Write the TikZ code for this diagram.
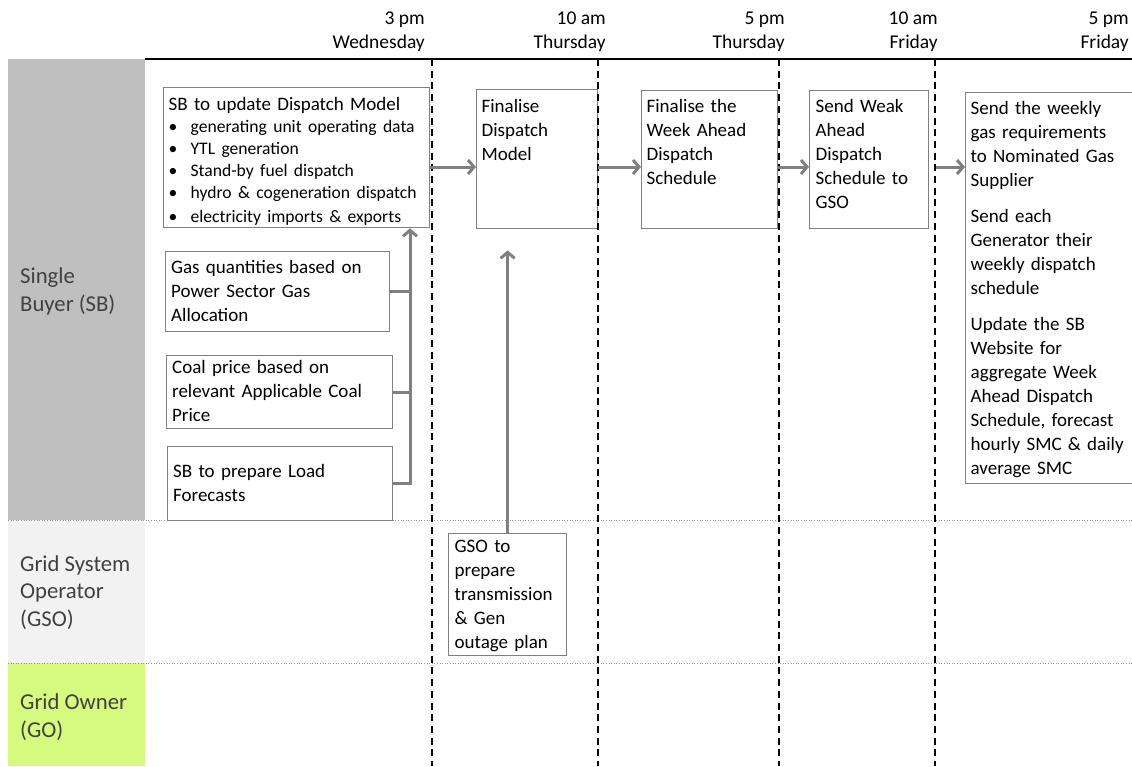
\documentclass[tikz,border=0pt]{standalone}
\usepackage{fontspec}
\setmainfont{Carlito}
\usetikzlibrary{arrows.meta}
\definecolor{sbgray}{RGB}{191,191,191}
\definecolor{gsogray}{RGB}{242,242,242}
\definecolor{gogreen}{RGB}{214,250,126}
\definecolor{boxline}{RGB}{128,128,128}
\definecolor{arrowgray}{RGB}{128,128,128}
\definecolor{lanetext}{RGB}{64,64,64}
\definecolor{dotgray}{RGB}{150,150,150}
\begin{document}
\begin{tikzpicture}[x=1pt,y=-1pt,
  every node/.style={font=\fontsize{19}{24}\selectfont},
  box/.style={draw=boxline, line width=1.3pt, fill=white, align=left,
    inner xsep=5pt, inner ysep=0pt, anchor=north west},
  lane/.style={anchor=base west, align=left, text=lanetext,
    font=\fontsize{22.7}{27.6}\selectfont, inner sep=0pt},
  hdr/.style={anchor=base east, align=right, inner sep=0pt,
    font=\fontsize{19.5}{24}\selectfont},
  timeline/.style={black, line width=1.4pt, dash pattern=on 7pt off 4.7pt},
  sep/.style={dotgray, line width=1pt, dash pattern=on 1pt off 1.6pt},
  arr/.style={arrowgray, line width=3pt, -{Straight Barb[length=6pt,width=14pt]}},
  link/.style={arrowgray, line width=3pt},
]
\useasboundingbox (0,0) rectangle (1132,766);
\clip (0,0) rectangle (1132,766);

% swimlane headers
\fill[sbgray] (8,59) rectangle (145,520);
\fill[gsogray] (8,520) rectangle (145,663);
\fill[gogreen] (8,663) rectangle (145,766);
\node[lane] (lsb) at (20,311.5) {Single\\Buyer (SB)};
\node[lane] (lgso) at (20,626.5) {Grid System\\Operator\\(GSO)};
\node[lane] (lgo) at (20,737) {Grid Owner\\(GO)};

% lane separators
\draw[sep] (8,520) -- (1132,520);
\draw[sep] (8,663) -- (1132,663);

% time header
\draw[black, line width=1.4pt] (145,59) -- (1132,59);
\node[hdr] (t1) at (425,48) {3 pm\\Wednesday};
\node[hdr] (t2) at (606,48) {10 am\\Thursday};
\node[hdr] (t3) at (785,48) {5 pm\\Thursday};
\node[hdr] (t4) at (938,48) {10 am\\Friday};
\node[hdr] (t5) at (1129,48) {5 pm\\Friday};

% boxes
\node[box, text width=256pt, text height=22.5pt, text depth=117.5pt] (b1) at (163,87)
  {SB to update Dispatch Model\\\fontsize{17.6}{22}\selectfont
   \makebox[22pt][l]{\textbullet}generating unit operating data\\
   \makebox[22pt][l]{\textbullet}YTL generation\\
   \makebox[22pt][l]{\textbullet}Stand-by fuel dispatch\\
   \makebox[22pt][l]{\textbullet}hydro \& cogeneration dispatch\\
   \makebox[22pt][l]{\textbullet}electricity imports \& exports};
\node[box, text width=111pt, text height=23pt, text depth=116pt] (b2) at (476,89)
  {Finalise\\Dispatch\\Model};
\node[box, text width=126pt, text height=22pt, text depth=116pt] (b3) at (641,90)
  {Finalise the\\Week Ahead\\Dispatch\\Schedule};
\node[box, inner xsep=6pt, text width=107pt, text height=22pt, text depth=116pt] (b4) at (809,90)
  {Send Weak\\Ahead\\Dispatch\\Schedule to\\GSO};
\node[box, text width=170pt, text height=22pt, text depth=369pt] (b5) at (965,92)
  {Send the weekly\\gas requirements\\to Nominated Gas\\Supplier\\[12pt]%
   Send each\\Generator their\\weekly dispatch\\schedule\\[12pt]%
   Update the SB\\Website for\\aggregate Week\\Ahead Dispatch\\Schedule, forecast\\hourly SMC \& daily\\average SMC};
\node[box, inner xsep=5.5pt, text width=213pt, text height=21.7pt, text depth=58.3pt] (gas) at (165,251)
  {Gas quantities based on\\Power Sector Gas\\Allocation};
\node[box, inner xsep=5.5pt, text width=215pt, text height=17.7pt, text depth=55.3pt] (coal) at (166,355)
  {Coal price based on\\relevant Applicable Coal\\Price};
\node[box, inner xsep=5.5pt, text width=214pt, text height=30.7pt, text depth=43.3pt] (load) at (167,446)
  {SB to prepare Load\\Forecasts};
\node[box, inner xsep=6pt, text width=106pt, text height=19.3pt, text depth=102.7pt] (gso) at (448,533)
  {GSO to\\prepare\\transmission\\\& Gen\\outage plan};

% time lines
\foreach \x in {432,598,779,935} \draw[timeline] (\x,59) -- (\x,766);

% connectors
\coordinate (row) at (0,167);
\coordinate (trunk) at (410,0);
\draw[arr] (b1.east |- row) -- (b2.west |- row);
\draw[arr] (b2.east |- row) -- (b3.west |- row);
\draw[arr] (b3.east |- row) -- (b4.west |- row);
\draw[arr, shorten <=7pt] (b4.east |- row) -- (b5.west |- row);
\draw[link] (gas.east) -- (gas.east -| trunk);
\draw[link] (coal.east) -- (coal.east -| trunk);
\draw[arr] (load.east) -| (trunk |- b1.south);
\draw[arr, shorten >=21pt] (gso.north) -- (gso.north |- b2.south);
\end{tikzpicture}
\end{document}
